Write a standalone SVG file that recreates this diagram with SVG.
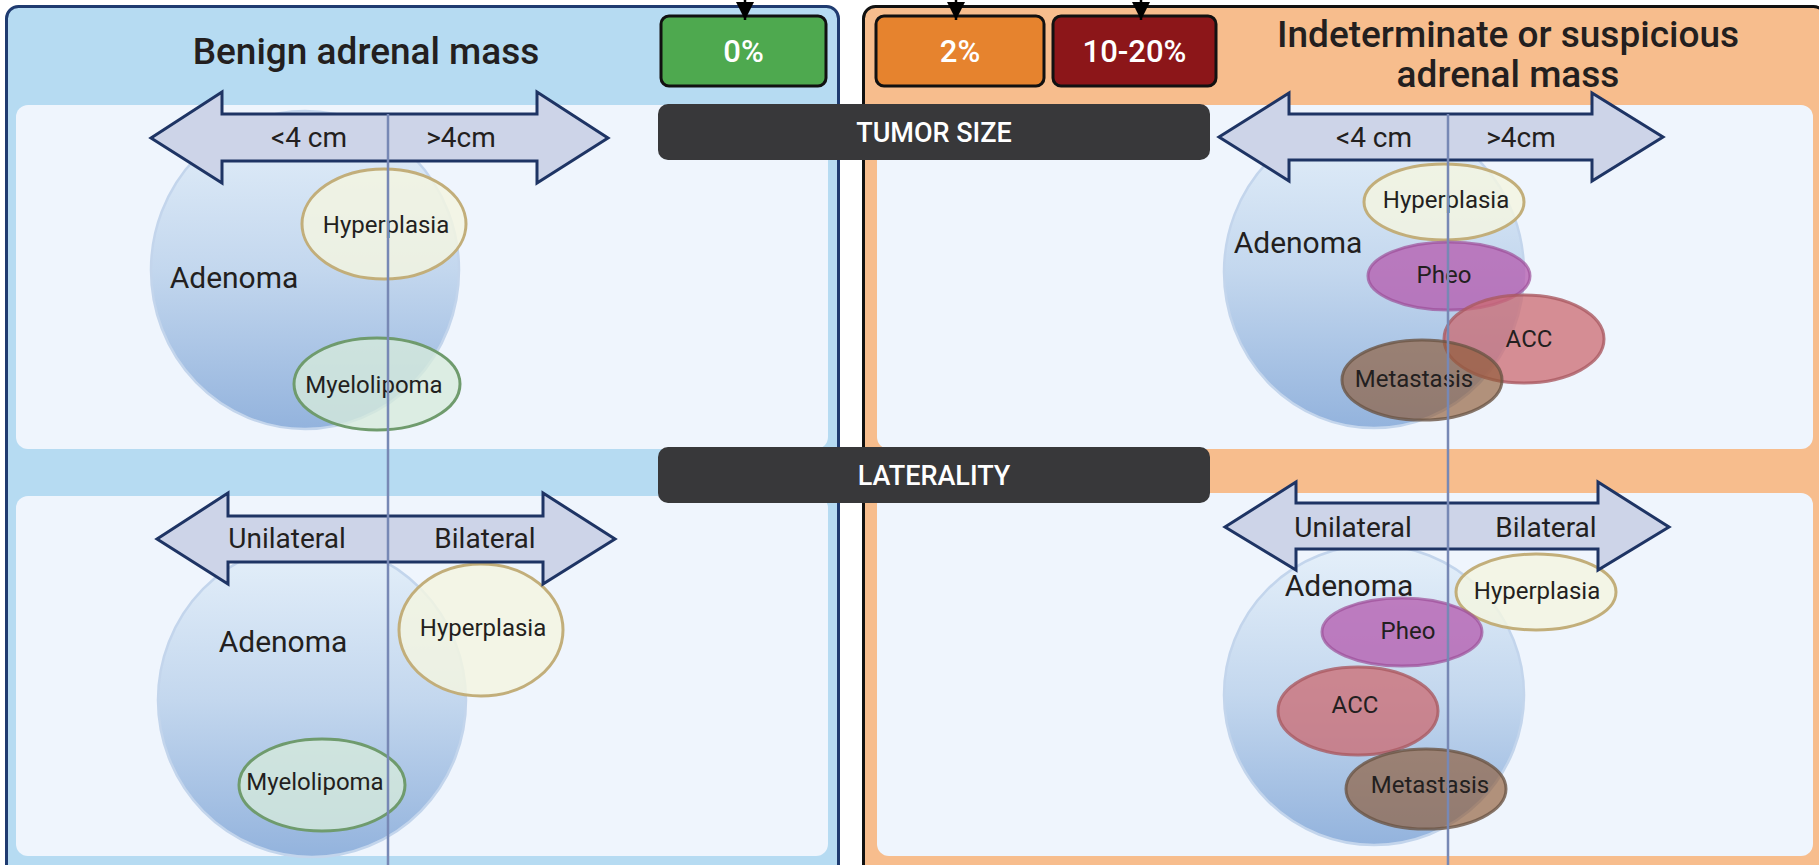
<svg xmlns="http://www.w3.org/2000/svg" width="1819" height="865" viewBox="0 0 1819 865">
  <defs>
    <linearGradient id="adenomaFill" x1="0" y1="0" x2="0" y2="1">
      <stop offset="0" stop-color="#e5f0fa"/>
      <stop offset="0.5" stop-color="#c3d7ee"/>
      <stop offset="1" stop-color="#93b3dd"/>
    </linearGradient>
    <marker id="head" markerUnits="userSpaceOnUse" markerWidth="20" markerHeight="20" viewBox="0 0 20 20" refX="18" refY="10" orient="auto">
      <path d="M0,1 L18,10 L0,19 Z" fill="#000"/>
    </marker>
    <style>
      text { font-family: Roboto, "Liberation Sans", sans-serif; fill: #231f20; text-anchor: middle; }
      .title { font-size: 37px; font-weight: 500; }
      .axis { font-size: 28px; }
      .ad { font-size: 30px; }
      .sm { font-size: 24px; }
      .pct { font-size: 31px; fill: #ffffff; font-weight: 500; }
      .sep { font-size: 27px; fill: #ffffff; font-weight: 500; }
      .inner { fill: #eff5fd; }
      .arrow { fill: #cdd4e8; stroke: #1e3464; stroke-width: 3; stroke-linejoin: miter; }
      .adenoma { fill: url(#adenomaFill); stroke: #c3d5ec; stroke-width: 2.5; }
      .hyper { fill: #f4f5e1; fill-opacity: 0.82; stroke: #c2ae7a; stroke-width: 3; }
      .myelo { fill: #d6ebdb; fill-opacity: 0.78; stroke: #6f9b6d; stroke-width: 3; }
      .pheo { fill: #b55daf; fill-opacity: 0.78; stroke: #9c4f98; stroke-opacity: 0.7; stroke-width: 3; }
      .acc { fill: #cc6a70; fill-opacity: 0.75; stroke: #aa5a62; stroke-opacity: 0.8; stroke-width: 3; }
      .meta { fill: #8f5a35; fill-opacity: 0.65; stroke: #6b5545; stroke-opacity: 0.8; stroke-width: 3; }
      .divider { stroke: #7788b5; stroke-width: 2.5; }
      .box { stroke: #111; stroke-width: 3; }
    </style>
  </defs>

  <rect width="1819" height="865" fill="#ffffff"/>

  <!-- Benign panel -->
  <g id="panel-benign">
    <rect x="6.5" y="6.5" width="832" height="900" rx="12" fill="#b6dbf2" stroke="#1f3b70" stroke-width="3"/>
    <rect class="inner" x="16" y="105" width="812" height="344" rx="12"/>
    <rect class="inner" x="16" y="496" width="812" height="360" rx="12"/>
    <text class="title" x="366" y="64">Benign adrenal mass</text>
  </g>

  <!-- Indeterminate / suspicious panel -->
  <g id="panel-suspicious">
    <rect x="863.5" y="6.5" width="962" height="900" rx="12" fill="#f7bd8d" stroke="#111" stroke-width="3"/>
    <rect class="inner" x="877" y="105" width="936" height="344" rx="12"/>
    <rect class="inner" x="877" y="493" width="936" height="363" rx="12"/>
    <text class="title" x="1508" y="47">Indeterminate or suspicious</text>
    <text class="title" x="1508" y="87">adrenal mass</text>
  </g>

  <!-- Percentage boxes -->
  <g id="pct-0">
    <rect class="box" x="661" y="16" width="165" height="70" rx="8" fill="#4ea94f"/>
    <text class="pct" x="743.5" y="62">0%</text>
  </g>
  <g id="pct-2">
    <rect class="box" x="876" y="16" width="168" height="70" rx="8" fill="#e6832e"/>
    <text class="pct" x="960" y="62">2%</text>
  </g>
  <g id="pct-10-20">
    <rect class="box" x="1053" y="16" width="163" height="70" rx="8" fill="#8c1619"/>
    <text class="pct" x="1134.5" y="62">10-20%</text>
  </g>

  <!-- Benign: tumor size -->
  <g id="benign-size-adenoma">
    <ellipse class="adenoma" cx="305" cy="270" rx="154" ry="159"/>
    <text class="ad" x="234" y="288">Adenoma</text>
  </g>
  <g id="benign-size-hyperplasia">
    <ellipse class="hyper" cx="384" cy="224" rx="82" ry="55"/>
    <text class="sm" x="386" y="233">Hyperplasia</text>
  </g>
  <g id="benign-size-myelolipoma">
    <ellipse class="myelo" cx="377" cy="384" rx="83" ry="46"/>
    <text class="sm" x="374" y="393">Myelolipoma</text>
  </g>
  <g id="benign-size-axis">
    <path class="arrow" d="M151,138 L222,92 L222,114 L537,114 L537,92 L608,138 L537,183 L537,161 L222,161 L222,183 Z"/>
    <text class="axis" x="309" y="147">&lt;4 cm</text>
    <text class="axis" x="461" y="147">&gt;4cm</text>
  </g>

  <!-- Benign: laterality -->
  <g id="benign-lat-adenoma">
    <ellipse class="adenoma" cx="312" cy="700" rx="154" ry="157"/>
    <text class="ad" x="283" y="652">Adenoma</text>
  </g>
  <g id="benign-lat-myelolipoma">
    <ellipse class="myelo" cx="322" cy="785" rx="83" ry="46"/>
    <text class="sm" x="315" y="790">Myelolipoma</text>
  </g>
  <g id="benign-lat-hyperplasia">
    <ellipse class="hyper" cx="481" cy="630" rx="82" ry="66"/>
    <text class="sm" x="483" y="636">Hyperplasia</text>
  </g>
  <g id="benign-lat-axis">
    <path class="arrow" d="M157,539 L228,493 L228,516 L543,516 L543,493 L615,539 L543,584 L543,562 L228,562 L228,584 Z"/>
    <text class="axis" x="287" y="548">Unilateral</text>
    <text class="axis" x="485" y="548">Bilateral</text>
  </g>

  <!-- Suspicious: tumor size -->
  <g id="susp-size-adenoma">
    <ellipse class="adenoma" cx="1374" cy="272" rx="150" ry="156"/>
    <text class="ad" x="1298" y="253">Adenoma</text>
  </g>
  <g id="susp-size-hyperplasia">
    <ellipse class="hyper" cx="1444" cy="202" rx="80" ry="38"/>
    <text class="sm" x="1446" y="208">Hyperplasia</text>
  </g>
  <g id="susp-size-pheo">
    <ellipse class="pheo" cx="1449" cy="276" rx="81" ry="34"/>
    <text class="sm" x="1444" y="283">Pheo</text>
  </g>
  <g id="susp-size-acc">
    <ellipse class="acc" cx="1524" cy="339" rx="80" ry="44"/>
    <text class="sm" x="1529" y="347">ACC</text>
  </g>
  <g id="susp-size-metastasis">
    <ellipse class="meta" cx="1422" cy="380" rx="80" ry="40"/>
    <text class="sm" x="1414" y="387">Metastasis</text>
  </g>
  <g id="susp-size-axis">
    <path class="arrow" d="M1219,137 L1289,93 L1289,114 L1592,114 L1592,93 L1663,137 L1592,181 L1592,160 L1289,160 L1289,181 Z"/>
    <text class="axis" x="1374" y="147">&lt;4 cm</text>
    <text class="axis" x="1521" y="147">&gt;4cm</text>
  </g>

  <!-- Suspicious: laterality -->
  <g id="susp-lat-adenoma">
    <ellipse class="adenoma" cx="1374" cy="695" rx="150" ry="150"/>
    <text class="ad" x="1349" y="596">Adenoma</text>
  </g>
  <g id="susp-lat-hyperplasia">
    <ellipse class="hyper" cx="1536" cy="592" rx="80" ry="38"/>
    <text class="sm" x="1537" y="599">Hyperplasia</text>
  </g>
  <g id="susp-lat-pheo">
    <ellipse class="pheo" cx="1402" cy="632" rx="80" ry="34"/>
    <text class="sm" x="1408" y="639">Pheo</text>
  </g>
  <g id="susp-lat-acc">
    <ellipse class="acc" cx="1358" cy="711" rx="80" ry="44"/>
    <text class="sm" x="1355" y="713">ACC</text>
  </g>
  <g id="susp-lat-metastasis">
    <ellipse class="meta" cx="1426" cy="789" rx="80" ry="40"/>
    <text class="sm" x="1430" y="793">Metastasis</text>
  </g>
  <g id="susp-lat-axis">
    <path class="arrow" d="M1225,527 L1296,482 L1296,503 L1598,503 L1598,482 L1669,527 L1598,570 L1598,549 L1296,549 L1296,570 Z"/>
    <text class="axis" x="1353" y="537">Unilateral</text>
    <text class="axis" x="1546" y="537">Bilateral</text>
  </g>

  <!-- Vertical split lines through each panel -->
  <g id="dividers">
    <line class="divider" x1="388" y1="114" x2="388" y2="865"/>
    <line class="divider" x1="1448" y1="114" x2="1448" y2="865"/>
  </g>

  <!-- Section headers -->
  <g id="header-tumor-size">
    <rect x="658" y="104" width="552" height="56" rx="10" fill="#38383a"/>
    <text class="sep" x="934" y="142">TUMOR SIZE</text>
  </g>
  <g id="header-laterality">
    <rect x="658" y="447" width="552" height="56" rx="10" fill="#38383a"/>
    <text class="sep" x="934" y="485">LATERALITY</text>
  </g>

  <!-- Incoming connectors onto the percentage boxes -->
  <g id="connectors" stroke="#000" stroke-width="2.5" fill="none">
    <line x1="745" y1="-10" x2="745" y2="20" marker-end="url(#head)"/>
    <line x1="956" y1="-10" x2="956" y2="20" marker-end="url(#head)"/>
    <line x1="1141" y1="-10" x2="1141" y2="20" marker-end="url(#head)"/>
  </g>
</svg>
